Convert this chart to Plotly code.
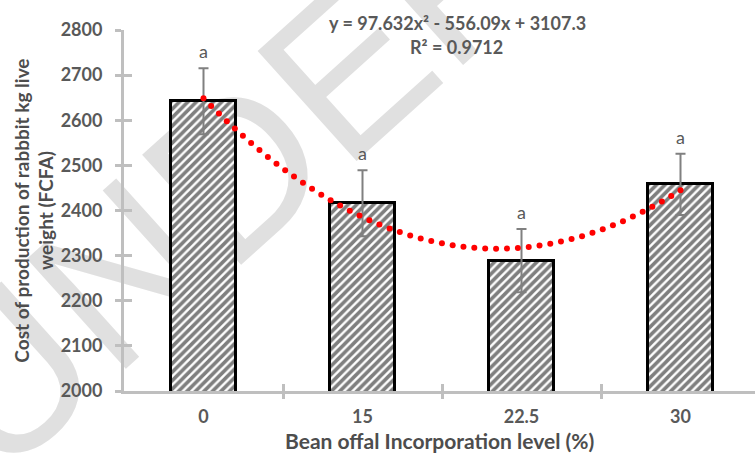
import numpy as np
import plotly.graph_objects as go

# Bean offal incorporation levels and production cost of rabbit (FCFA / kg live weight)
levels = ["0", "15", "22.5", "30"]
cost = [2642, 2416, 2289, 2458]
cost_err = [73, 73, 70, 68]
letters = ["a", "a", "a", "a"]

# Polynomial trendline reported on the chart: y = a*x^2 + b*x + c, x = 1..4
trend_a, trend_b, trend_c = 97.632, -556.09, 3107.3
trend_r2 = 0.9712

GRAY_AXIS = "#bfbfbf"
GRAY_TEXT = "#595959"
TITLE_TEXT = "#4d4d4d"
FONT = "Lato"

xpos = list(range(len(levels)))

fig = go.Figure()

fig.add_trace(go.Bar(
    x=xpos, y=cost, width=0.415,
    marker=dict(
        color="white",
        line=dict(color="black", width=3),
        pattern=dict(shape="/", fgcolor="black", bgcolor="white", size=6, solidity=0.6),
    ),
    error_y=dict(type="data", array=cost_err, visible=True,
                 color="#808080", thickness=2, width=5),
    showlegend=False, hoverinfo="skip",
))

# Dotted trendline: evaluate the fitted polynomial and place round dots
# at roughly even on-screen spacing along the curve.
t = np.linspace(1, len(levels), 3000)
yt = trend_a * t**2 + trend_b * t + trend_c
px_per_cat, px_per_unit = 159.0, 361.0 / 800.0
seg = np.hypot(np.diff(t) * px_per_cat, np.diff(yt) * px_per_unit)
arc = np.concatenate([[0], np.cumsum(seg)])
n_dots = int(round(arc[-1] / 10.8)) + 1
s = np.linspace(0, arc[-1], n_dots)
t_dots = np.interp(s, arc, t)
y_dots = trend_a * t_dots**2 + trend_b * t_dots + trend_c
fig.add_trace(go.Scatter(
    x=t_dots - 1, y=y_dots, mode="markers",
    marker=dict(color="#ff0000", size=6),
    showlegend=False, hoverinfo="skip",
))

# Empty traces that carry the overlay axes used for the crossing tick marks
for xa, ya in (("x2", "y"), ("x3", "y"), ("x", "y2")):
    fig.add_trace(go.Scatter(x=[None], y=[None], xaxis=xa, yaxis=ya,
                             showlegend=False, hoverinfo="skip"))

xrange = [-0.5, -0.5 + 631 / 159.0]
yrange = [2000, 2800]
boundaries = [0.5, 1.5, 2.5]

fig.update_layout(
    width=755, height=458,
    margin=dict(l=124, r=0, t=30, b=67),
    paper_bgcolor="white", plot_bgcolor="white",
    font=dict(family=FONT, color=GRAY_TEXT),
    bargap=0,
    xaxis=dict(
        range=xrange, tickmode="array", tickvals=xpos, ticktext=levels,
        ticks="outside", ticklen=7, tickcolor="rgba(0,0,0,0)",
        showline=True, linecolor=GRAY_AXIS, linewidth=3,
        showgrid=False, zeroline=False,
        tickfont=dict(family=FONT, size=18, color=GRAY_TEXT, weight="bold"),
    ),
    xaxis2=dict(
        overlaying="x", anchor="y", range=xrange, tickmode="array", tickvals=boundaries,
        ticks="outside", ticklen=7, tickwidth=3, tickcolor=GRAY_AXIS,
        showticklabels=False, showline=False, showgrid=False, zeroline=False,
    ),
    xaxis3=dict(
        overlaying="x", anchor="y", range=xrange, tickmode="array", tickvals=boundaries,
        ticks="inside", ticklen=7, tickwidth=3, tickcolor=GRAY_AXIS,
        showticklabels=False, showline=False, showgrid=False, zeroline=False,
    ),
    yaxis=dict(
        range=yrange, dtick=100, tick0=2000,
        ticks="outside", ticklen=6, tickwidth=3, tickcolor=GRAY_AXIS,
        ticklabelstandoff=9,
        showline=True, linecolor=GRAY_AXIS, linewidth=3,
        showgrid=False, zeroline=False,
        tickfont=dict(family=FONT, size=18, color=GRAY_TEXT, weight="bold"),
    ),
    yaxis2=dict(
        overlaying="y", anchor="x", range=yrange, dtick=100, tick0=2000,
        ticks="inside", ticklen=8, tickwidth=3, tickcolor=GRAY_AXIS,
        showticklabels=False, showline=False, showgrid=False, zeroline=False,
    ),
)

# Significance letters above the error bars
for i, (v, e, lab) in enumerate(zip(cost, cost_err, letters)):
    fig.add_annotation(x=i, y=v + e, text=lab, showarrow=False,
                       xanchor="center", yanchor="bottom", yshift=4,
                       font=dict(family=FONT, size=18, color=GRAY_TEXT))

# Trendline equation
eq = f"y = {trend_a}x² - {abs(trend_b)}x + {trend_c}"
fig.add_annotation(xref="paper", yref="paper", x=0.529, y=1.019, text=eq,
                   xanchor="center", yanchor="middle", showarrow=False,
                   font=dict(family=FONT, size=18, color=GRAY_TEXT, weight="bold"))
fig.add_annotation(xref="paper", yref="paper", x=0.527, y=0.953, text=f"R² = {trend_r2}",
                   xanchor="center", yanchor="middle", showarrow=False,
                   font=dict(family=FONT, size=18, color=GRAY_TEXT, weight="bold"))

# Axis titles
fig.add_annotation(xref="paper", yref="paper", x=-0.144, y=0.5, textangle=-90,
                   xanchor="center", yanchor="middle",
                   text="Cost of production of rabbbit kg live<br>weight (FCFA)",
                   showarrow=False,
                   font=dict(family=FONT, size=19, color=TITLE_TEXT, weight="bold"))
fig.add_annotation(xref="paper", yref="paper", x=0.5, y=-0.136,
                   xanchor="center", yanchor="middle",
                   text="Bean offal Incorporation level (%)", showarrow=False,
                   font=dict(family=FONT, size=21, color=TITLE_TEXT, weight="bold"))

# Background watermark, drawn beneath the data
fig.add_shape(type="line", xref="paper", yref="paper",
              x0=-0.301, y0=-0.064, x1=0.759, y1=1.604,
              line=dict(width=0, color="rgba(0,0,0,0)"), layer="below",
              label=dict(text="UNDER REVIEW", textposition="start", yanchor="middle",
                         font=dict(family="Liberation Sans", size=215, color="#e0e0e0")))

fig.write_html("out.html")
